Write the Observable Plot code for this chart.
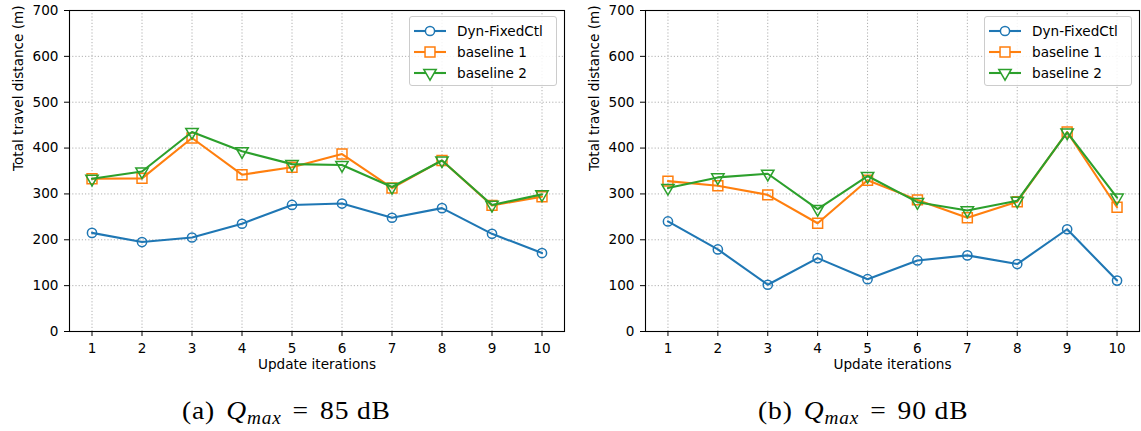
<!DOCTYPE html>
<html>
<head>
<meta charset="utf-8">
<script src="https://cdn.jsdelivr.net/npm/d3@7"></script>
<script src="https://cdn.jsdelivr.net/npm/@observablehq/plot@0.6"></script>
<style>
  html, body { margin: 0; padding: 0; background: white; }
  #root { position: relative; width: 1141px; height: 431px; overflow: hidden; background: white; font-family: "DejaVu Sans", sans-serif; }
  .panel { position: absolute; top: 0; }
  .legend { position: absolute; box-sizing: border-box; width: 148px; height: 70px; border: 1px solid #cccccc; border-radius: 3px; background: rgba(255,255,255,0.85); }
  .legend .row { position: absolute; left: 0; height: 20px; }
  .legend .row svg { position: absolute; left: 0; top: 0; }
  .legend .row span { position: absolute; left: 47px; top: 0; line-height: 20px; font-size: 13.6px; color: black; white-space: nowrap; font-family: "DejaVu Sans", sans-serif; }
  .caption { position: absolute; top: 398px; font-family: "Liberation Serif", serif; font-size: 26px; line-height: 26px; letter-spacing: 0.8px; color: black; white-space: nowrap; transform: scaleX(1.06); transform-origin: left center; }
  .caption i { font-style: italic; }
  .caption sub { font-size: 0.7em; vertical-align: -0.25em; line-height: 0; }
  .caption .sp { display: inline-block; width: 0.4em; }
</style>
</head>
<body>
<div id="root"></div>
<script>
// ---- Data ----
const iterations = [1, 2, 3, 4, 5, 6, 7, 8, 9, 10];
const yTicks = [0, 100, 200, 300, 400, 500, 600, 700];
const seriesNames = ["Dyn-FixedCtl", "baseline 1", "baseline 2"];
const seriesColors = ["#1f77b4", "#ff7f0e", "#2ca02c"];

// (a) Q_max = 85 dB
const dyn85 = [215, 195, 205, 235, 276, 279, 248, 269, 213, 171];
const base1_85 = [333, 334, 422, 342, 358, 387, 313, 373, 275, 294];
const base2_85 = [333, 349, 435, 393, 365, 363, 315, 373, 276, 299];

// (b) Q_max = 90 dB
const dyn90 = [240, 179, 102, 160, 114, 155, 166, 147, 223, 111];
const base1_90 = [328, 318, 298, 236, 330, 287, 248, 283, 435, 271];
const base2_90 = [313, 336, 344, 267, 339, 282, 264, 285, 434, 292];

const xLabel = "Update iterations";
const yLabel = "Total travel distance (m)";

// ---- Chart ----
const FS = 13.6;
const symbols = [
  {symbol: "circle", r: 4.6, rotate: 0},
  {symbol: "square", r: 5.6, rotate: 0},
  {symbol: "triangle", r: 4.6, rotate: 180}
];

function seriesRows(arr, name) {
  return iterations.map((it, i) => ({it, v: arr[i], series: name}));
}

function makePanel(values, width, marginRight) {
  const marks = [
    Plot.gridX(iterations, {stroke: "#b0b0b0", strokeOpacity: 1, strokeWidth: 1, strokeDasharray: "1.2,2"}),
    Plot.gridY(yTicks, {stroke: "#b0b0b0", strokeOpacity: 1, strokeWidth: 1, strokeDasharray: "1.2,2"})
  ];
  values.forEach((arr, k) => {
    const rows = seriesRows(arr, seriesNames[k]);
    marks.push(Plot.line(rows, {x: "it", y: "v", stroke: seriesColors[k], strokeWidth: 2.1}));
    marks.push(Plot.dot(rows, {x: "it", y: "v", stroke: seriesColors[k], fill: "none", strokeWidth: 1.5,
      symbol: symbols[k].symbol, r: symbols[k].r, rotate: symbols[k].rotate}));
  });
  marks.push(
    Plot.frame({stroke: "black", strokeWidth: 1.1}),
    Plot.axisX(iterations, {tickSize: 5, tickPadding: 7, fontSize: FS, label: null, tickFormat: d => String(d), stroke: "black"}),
    Plot.axisY(yTicks, {tickSize: 5, tickPadding: 6, fontSize: FS, label: null, tickFormat: d => String(d), stroke: "black"}),
    Plot.text([xLabel], {text: d => d, frameAnchor: "bottom", dy: 37, fontSize: FS, fill: "black"}),
    Plot.text([yLabel], {text: d => d, frameAnchor: "left", dx: -51, rotate: -90, fontSize: FS, fill: "black"})
  );
  return Plot.plot({
    width, height: 380,
    marginTop: 10, marginBottom: 49, marginLeft: 69, marginRight,
    x: {domain: [0.55, 10.45]},
    y: {domain: [0, 700]},
    style: {fontFamily: "DejaVu Sans, sans-serif", fontSize: FS + "px", color: "black", background: "white", overflow: "visible"},
    marks
  });
}

function makeLegend(left, top) {
  const div = document.createElement("div");
  div.className = "legend";
  div.style.left = left + "px";
  div.style.top = top + "px";
  const symMap = {circle: d3.symbolCircle, square: d3.symbolSquare, triangle: d3.symbolTriangle};
  seriesNames.forEach((name, k) => {
    const row = document.createElement("div");
    row.className = "row";
    row.style.top = (4 + k * 20.8) + "px";
    row.style.width = "146px";
    const svg = d3.create("svg").attr("width", 42).attr("height", 20);
    svg.append("line").attr("x1", 4).attr("x2", 36).attr("y1", 10).attr("y2", 10)
      .attr("stroke", seriesColors[k]).attr("stroke-width", 2.1);
    const s = symbols[k];
    svg.append("path")
      .attr("d", d3.symbol(symMap[s.symbol], Math.PI * s.r * s.r)())
      .attr("transform", `translate(20,10) rotate(${s.rotate})`)
      .attr("fill", "white").attr("stroke", seriesColors[k]).attr("stroke-width", 1.5);
    row.appendChild(svg.node());
    const span = document.createElement("span");
    span.textContent = name;
    row.appendChild(span);
    div.appendChild(row);
  });
  return div;
}

const panels = [
  {left: 0, width: 576, marginRight: 12, values: [dyn85, base1_85, base2_85], label: "(a)", q: "85", capLeft: 182},
  {left: 576, width: 565, marginRight: 2, values: [dyn90, base1_90, base2_90], label: "(b)", q: "90", capLeft: 182}
];

const root = document.getElementById("root");
panels.forEach(p => {
  const wrap = document.createElement("div");
  wrap.className = "panel";
  wrap.style.left = p.left + "px";
  wrap.style.width = p.width + "px";
  wrap.style.height = "431px";
  wrap.appendChild(makePanel(p.values, p.width, p.marginRight));
  const frameRight = p.width - p.marginRight;
  wrap.appendChild(makeLegend(frameRight - 7 - 148, 16));
  const cap = document.createElement("div");
  cap.className = "caption";
  cap.style.left = p.capLeft + "px";
  cap.innerHTML = `${p.label}<span class="sp"></span><i>Q<sub>max</sub></i><span class="sp"></span>=<span class="sp"></span>${p.q} dB`;
  wrap.appendChild(cap);
  root.appendChild(wrap);
});
</script>
</body>
</html>
